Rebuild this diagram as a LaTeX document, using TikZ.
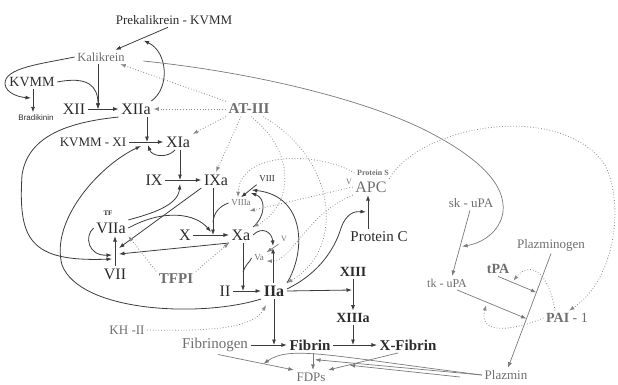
\documentclass[tikz,border=0pt]{standalone}
\usepackage{fontspec}
\setmainfont{Liberation Serif}
\newfontfamily\sansf{Liberation Sans}
\usetikzlibrary{arrows.meta}
\definecolor{ink}{HTML}{2B2B2B}
\definecolor{gtext}{HTML}{6E6E6E}
\definecolor{gline}{HTML}{7A7A7A}
\definecolor{dline}{HTML}{3C3C3C}
\definecolor{dotc}{HTML}{8A8A8A}
\begin{document}
\begin{tikzpicture}[x=1pt,y=-1pt,
  every node/.style={inner sep=2.5pt},
  dk/.style={text=ink},
  gy/.style={text=gtext},
  fs/.style={font=\fontsize{#1}{#1}\selectfont},
  fb/.style={font=\fontsize{#1}{#1}\selectfont\bfseries},
  ahd/.style={-{Latex[length=5.5pt,width=4pt]}},
  conn/.style={draw=dline, line width=0.8pt, ahd},
  gconn/.style={draw=gline, line width=0.7pt, ahd},
  bare/.style={draw=dline, line width=0.8pt},
  inh/.style={draw=dotc, line width=0.8pt, dotted, ahd},
]
\useasboundingbox (0,0) rectangle (618,385);

% ---------- nodes ----------
\node[dk,fs=13] (prek) at (174,20) {Prekalikrein - KVMM};
\node[gy,fs=12.5] (kal) at (101,57) {Kalikrein};
\node[dk,fs=14] (kvmm) at (32,82) {KVMM};
\node[dk,font=\sansf\fontsize{8}{8}\selectfont] (brad) at (36,118) {Bradikinin};
\node[dk,fs=16] (xii) at (74,109) {XII};
\node[dk,fs=16] (xiia) at (136,109) {XIIa};
\node[gy,fb=15] (at3) at (249,109) {AT-III};
\node[dk,fs=13] (kvmmxi) at (93,142) {KVMM - XI};
\node[dk,fs=16] (xia) at (178,142) {XIa};
\node[dk,fs=16] (ix) at (154,180) {IX};
\node[dk,fs=16] (ixa) at (216,180) {IXa};
\node[dk,fs=9] (viii) at (267,179) {VIII};
\node[gy,fs=9] (viiia) at (241,203) {VIIIa};
\node[dk,fb=7] (tf) at (108,213) {TF};
\node[dk,fs=16] (viia) at (111,228) {VIIa};
\node[dk,fs=16] (x) at (185,235) {X};
\node[dk,fs=16] (xa) at (241,235) {Xa};
\node[gy,fs=8] (v) at (284,239) {V};
\node[gy,fs=9] (va) at (259,258) {Va};
\node[dk,fs=16] (vii) at (115,274) {VII};
\node[gy,fb=15] (tfpi) at (176,279) {TFPI};
\node[dk,fs=16] (ii) at (225,291) {II};
\node[dk,fb=16] (iia) at (274,291) {IIa};
\node[gy,fs=13] (kh) at (127,330) {KH -II};
\node[gy,fs=15] (fbg) at (215,345) {Fibrinogen};
\node[dk,fb=15] (fib) at (310,345) {Fibrin};
\node[dk,fb=14] (xiii) at (353,272) {XIII};
\node[dk,fb=14] (xiiia) at (353,318) {XIIIa};
\node[dk,fb=15] (xfib) at (408,345) {X-Fibrin};
\node[gy,fs=13] (fdps) at (311,377) {FDPs};
\node[gy,fs=13] (plz) at (506,375) {Plazmin};
\node[gy,fs=13] (sk) at (471,203) {sk - uPA};
\node[gy,fs=13] (plg) at (551,245) {Plazminogen};
\node[gy,fs=12] (tk) at (447,283) {tk - uPA};
\node[gy,fb=14] (tpa) at (498,269) {tPA};
\node[gy,fs=14] (pai) at (567,318) {\textbf{PAI} - 1};
\node[gy,fs=16] (apc) at (371,187) {APC};
\node[gy,fb=8] (ps) at (373,173) {Protein S};
\node[gy,fs=8] (vapc) at (349,182) {V};
\node[dk,fs=15] (pc) at (379,237) {Protein C};

% ---------- reaction points ----------
\coordinate (rkvmm) at (33,98);
\coordinate (rxii) at (98,109);
\coordinate (rxi) at (147,142);
\coordinate (rix) at (180,180);
\coordinate (rx) at (213,235);
\coordinate (rvii) at (115,255);
\coordinate (rii) at (243,291);
\coordinate (rfib) at (274,345);
\coordinate (rxiii) at (353,290);
\coordinate (rxf) at (353,345);
\coordinate (rpc) at (368,212);
\coordinate (fx) at (313,0);

% ---------- contact system ----------
\draw[conn] ([xshift=-6pt]prek.south) -- coordinate[pos=0.5] (rprek) ([xshift=-12pt]kal.north east);
\draw[conn] ([xshift=-2pt]xiia.north east) .. controls (170,88) and (168,52) .. ([shift={(2pt,-2pt)}]rprek);
\draw[conn] (kal.west) .. controls (40,64) and (4,68) .. (5,84) .. controls (6,93) and (18,97) .. ([xshift=-2pt]rkvmm);
\draw[conn] (kvmm.south -| rkvmm) -- (brad.north -| rkvmm);
\draw[conn] (kal.south -| rxii) -- (rxii);
\draw[conn] (kvmm.east) .. controls (88,76) and (98,86) .. (rxii);
\draw[conn] (xii) -- (xiia);

% fibrinolysis activators
\draw[gconn] ([xshift=-1pt]sk.south) -- coordinate[pos=0.55] (rsk) ([xshift=5pt]tk.north);
\draw[gconn] ([xshift=16pt,yshift=-4pt]kal.east) .. controls (250,72) and (360,98) .. (425,130) .. controls (480,158) and (506,185) .. (503,212) .. controls (500,232) and (482,243) .. ([xshift=2pt]rsk);

% ---------- intrinsic ----------
\draw[conn] (xiia.south -| rxi) -- (rxi);
\draw[conn] (kvmmxi) -- (xia);
\draw[conn] ([xshift=-3pt]xia.south) .. controls (168,158) and (152,157) .. ([shift={(1pt,-3pt)}]rxi);
\draw[conn] (xia.south -| rix) -- (rix);
\draw[conn] (ix) -- (ixa);
\draw[conn] (viia.north east) .. controls (150,214) and (178,206) .. ([yshift=-4pt]rix);
\draw[conn] (viia.east) .. controls (165,208) and (196,214) .. ([shift={(-2pt,3pt)}]rx);
\draw[conn] (ixa.south -| rx) -- (rx);
\draw[conn] (x) -- (xa);
\draw[conn] (ixa.south west) -- ([shift={(4pt,7pt)}]rvii);
\draw[conn] (xa.south west) -- ([shift={(4pt,1pt)}]rvii);
\draw[conn] (viia.west) .. controls (84,236) and (88,256) .. ([xshift=-3pt]rvii);
\draw[conn] (xiia.south west) .. controls (70,122) and (28,135) .. (22,175) .. controls (18,240) and (30,262) .. ([shift={(-3pt,-4pt)}]rvii);
\draw[conn] (vii.north) -- (vii.north |- viia.south);
\draw[conn] (iia.south west) .. controls (200,318) and (80,312) .. (62,265) .. controls (50,220) and (100,165) .. ([shift={(-6pt,-4pt)}]rxi);

% ---------- common path ----------
\draw[conn] (xa.south -| rii) -- (rii);
\draw[conn] (ii) -- (iia);
\draw[bare] (va.west) .. controls (250,262) and (245,265) .. (243,272);
\draw[gconn] (v.south west) -- coordinate[pos=0.45] (rv) (va.north east);
\draw[conn] (iia.north -| rv) -- (rv);
\draw[conn] (xa.east) .. controls (262,226) and (272,232) .. ([yshift=2pt]rv);
\draw[conn] (viii.south west) -- coordinate[pos=0.5] (rviii) (viiia.north);
\draw[conn] (xa.north east) .. controls (266,216) and (266,198) .. ([shift={(2pt,-2pt)}]rviii);
\draw[conn] (iia.north east) .. controls (306,252) and (306,196) .. ([shift={(3pt,1pt)}]rviii);
\draw[bare] (viiia.west) .. controls (220,206) and (214,212) .. (213,222);

% ---------- fibrin ----------
\draw[conn] (iia.south) -- (rfib);
\draw[conn] (fbg) -- (fib);
\draw[conn] (iia.east) -- ([xshift=-1pt]rxiii);
\draw[conn] (xiii) -- (xiiia);
\draw[conn] (xiiia.south) -- (rxf);
\draw[conn] (fib) -- (xfib);
\draw[gconn] (fib.south -| fx) -- coordinate[pos=0.45] (rfdp2) (fdps.north -| fx);
\draw[gconn] ([xshift=3pt]fbg.south) -- coordinate[pos=0.6] (rfdp1) (fdps.north west);
\draw[gconn] ([xshift=-10pt]xfib.south) -- coordinate[pos=0.72] (rfdp3) (fdps.north east);

% plazmin
\draw[gconn] (plz.west) .. controls (330,356) and (290,345) .. (rfdp1);
\draw[gconn] (plz.west) -- ([shift={(2pt,1pt)}]rfdp2);
\draw[gconn] ([xshift=-22pt,yshift=-2pt]plz.west) -- ([xshift=2pt]rfdp3);
\draw[gconn] (plg.south) -- coordinate[pos=0.34] (rplg1) coordinate[pos=0.57] (rplg2) ([xshift=2pt]plz.north);
\draw[gconn] (tpa.south) -- coordinate[pos=0.4] (rtpa) (rplg1);
\draw[gconn] ([xshift=10pt]tk.south) -- coordinate[pos=0.42] (rtk) (rplg2);
\draw[inh] ([xshift=-12pt]pai.north) .. controls (548,268) and (528,262) .. ([yshift=2pt]rtpa);
\draw[inh] (pai.west) .. controls (510,332) and (478,334) .. ([yshift=-3pt]rtk);
\draw[inh] (apc.north east) .. controls (420,125) and (560,100) .. (605,165) .. controls (625,205) and (615,280) .. ([xshift=2pt]pai.north);

% ---------- inhibitors ----------
\draw[inh] (at3.north west) -- ([xshift=-7pt]kal.south east);
\draw[inh] (at3.west) -- (xiia.east);
\draw[inh] (at3.south west) -- (xia.north east);
\draw[inh] ([xshift=-8pt]at3.south) -- (ixa.north);
\draw[inh] ([xshift=2pt]at3.south) .. controls (295,150) and (295,205) .. (xa.north east);
\draw[inh] ([xshift=14pt]at3.south) .. controls (338,160) and (345,250) .. (iia.north east);
\draw[inh] (ps.west) .. controls (320,152) and (240,150) .. ([xshift=-3pt]viiia.north);
\draw[inh] (apc.west) -- ([shift={(-4pt,-8pt)}]viiia.east);
\draw[inh] (apc.south west) .. controls (305,215) and (292,262) .. ([yshift=-3pt]va.east);
\draw[inh] (tfpi.north west) -- (viia.south east);
\draw[inh] (tfpi.north east) -- (xa.south west);
\draw[inh] (kh.east) .. controls (225,332) and (255,325) .. ([shift={(5pt,-6pt)}]iia.south west);

% ---------- protein C ----------
\draw[conn] ([yshift=2pt]iia.east) .. controls (322,272) and (336,245) .. (341,228) .. controls (346,214) and (354,211) .. ([xshift=-2pt]rpc);
\draw[conn] (pc.north -| rpc) -- (apc.south -| rpc);
\end{tikzpicture}
\end{document}
